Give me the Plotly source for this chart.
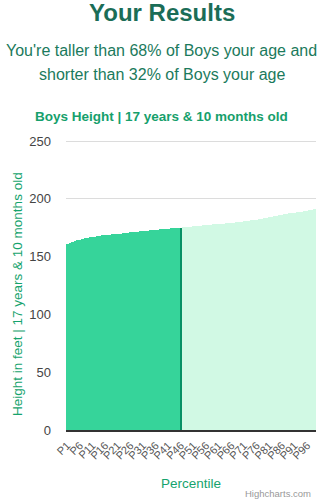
import plotly.graph_objects as go

percentiles = [f"P{i}" for i in range(1, 100)]
heights = [
    160.6, 161.8, 162.6, 163.4, 164.1, 164.7, 165.3, 165.8, 166.3, 166.7,
    167.1, 167.4, 167.7, 168.0, 168.3, 168.5, 168.7, 169.0, 169.3, 169.6,
    169.8, 170.0, 170.3, 170.5, 170.8, 171.0, 171.2, 171.5, 171.7, 171.9,
    172.2, 172.4, 172.6, 172.8, 173.0, 173.2, 173.4, 173.6, 173.8, 174.0,
    174.2, 174.4, 174.6, 174.8, 175.0, 175.2, 175.4, 175.6, 175.8, 176.0,
    176.2, 176.4, 176.6, 176.8, 177.0, 177.2, 177.4, 177.6, 177.8, 178.0,
    178.2, 178.4, 178.6, 178.8, 179.0, 179.2, 179.5, 179.7, 180.0, 180.2,
    180.5, 180.8, 181.1, 181.4, 181.7, 182.1, 182.5, 182.9, 183.3, 183.7,
    184.1, 184.5, 184.9, 185.3, 185.8, 186.3, 186.7, 187.1, 187.4, 187.8,
    188.1, 188.4, 188.7, 189.0, 189.3, 189.7, 190.1, 190.5, 190.9,
]
highlight = "P46"
tick_labels = percentiles[::5]
y_ticks = [0, 50, 100, 150, 200, 250]

title_text = "Your Results"
subtitle_lines = ["You're taller than 68% of Boys your age and",
                  "shorter than 32% of Boys your age"]
chart_title = "Boys Height | 17 years & 10 months old"
y_title = "Height in feet | 17 years & 10 months old"
x_title = "Percentile"

C_BELOW = "#36d49a"
C_HIGH = "#079165"
C_ABOVE = "#d1f9e4"

hi_idx = percentiles.index(highlight)
colors = [C_BELOW if i < hi_idx else (C_HIGH if i == hi_idx else C_ABOVE)
          for i in range(len(percentiles))]

W, H = 323, 500
L, R, T, B = 66, 7, 140, 70
PW, PH = W - L - R, H - T - B


def px(x):
    return (x - L) / PW


def py(y):
    return (H - B - y) / PH


fig = go.Figure(go.Bar(
    x=percentiles, y=heights, marker=dict(color=colors, line=dict(width=0)),
    hoverinfo="x+y",
))

font = "Liberation Sans, Arial, sans-serif"
ann = []
ann.append(dict(text=f"<b>{title_text}</b>", x=px(W / 2), y=py(13), xref="paper", yref="paper",
                showarrow=False, xanchor="center", yanchor="middle",
                font=dict(family=font, size=24, color="#1b6d57")))
for i, line in enumerate(subtitle_lines):
    ann.append(dict(text=line, x=px(W / 2), y=py(50 + 24 * i), xref="paper", yref="paper",
                    showarrow=False, xanchor="center", yanchor="middle",
                    font=dict(family=font, size=16, color="#1b7a5c")))
ann.append(dict(text=f"<b>{chart_title}</b>", x=px(W / 2), y=py(116), xref="paper", yref="paper",
                showarrow=False, xanchor="center", yanchor="middle",
                font=dict(family=font, size=13.5, color="#16a06c")))
ann.append(dict(text=y_title, x=px(17), y=py(294), xref="paper", yref="paper",
                showarrow=False, xanchor="center", yanchor="middle", textangle=-90,
                font=dict(family=font, size=13.5, color="#16a36d")))
ann.append(dict(text=x_title, x=px(191), y=py(483), xref="paper", yref="paper",
                showarrow=False, xanchor="center", yanchor="middle",
                font=dict(family=font, size=13.5, color="#16a36d")))
ann.append(dict(text="Highcharts.com", x=px(313), y=py(493), xref="paper", yref="paper",
                showarrow=False, xanchor="right", yanchor="middle",
                font=dict(family=font, size=9.5, color="#999999")))

fig.update_layout(
    width=W, height=H,
    margin=dict(l=L, r=R, t=T, b=B, pad=0),
    paper_bgcolor="white", plot_bgcolor="white",
    bargap=0, showlegend=False,
    annotations=ann,
    font=dict(family=font),
    xaxis=dict(
        tickmode="array", tickvals=tick_labels, ticktext=tick_labels,
        tickangle=-45, tickfont=dict(size=11, color="#555555"),
        showgrid=False, showline=True, linecolor="#333333", linewidth=1.5,
        ticks="outside", ticklen=3, tickcolor="rgba(0,0,0,0)", fixedrange=True,
    ),
    yaxis=dict(
        range=[0, 250.9], tickvals=y_ticks, tickfont=dict(size=13, color="#444444"),
        showgrid=True, gridcolor="#dcdcdc", gridwidth=1, zeroline=False,
        showline=False, ticklabelstandoff=14, fixedrange=True,
    ),
)

fig.write_html("out.html")
